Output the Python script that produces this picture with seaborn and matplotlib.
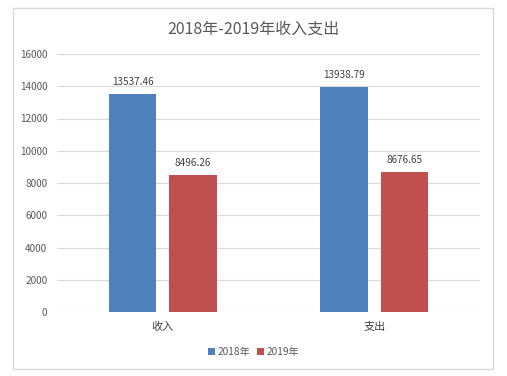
import matplotlib
matplotlib.use("Agg")
import matplotlib.pyplot as plt
import seaborn as sns
import pandas as pd
from matplotlib.patches import Rectangle, Patch

categories = ["收入", "支出"]
series_names = ["2018年", "2019年"]
values_2018 = [13537.46, 13938.79]
values_2019 = [8496.26, 8676.65]
yticks = [0, 2000, 4000, 6000, 8000, 10000, 12000, 14000, 16000]
title = "2018年-2019年收入支出"

sns.set_theme(style="white")
plt.rcParams['font.family'] = ['Noto Sans CJK SC', 'DejaVu Sans']

df = pd.DataFrame({
    "category": categories * 2,
    "series": [series_names[0]] * 2 + [series_names[1]] * 2,
    "value": values_2018 + values_2019,
})

W, H = 507, 376
fig = plt.figure(figsize=(W / 100, H / 100), dpi=100)
ax = fig.add_axes([57 / W, 1 - 312 / H, (480 - 57) / W, (312 - 54) / H])

palette = {series_names[0]: "#4F81BD", series_names[1]: "#C0504D"}
sns.barplot(data=df, x="category", y="value", hue="series", palette=palette,
            order=categories, hue_order=series_names, width=0.572, gap=0.21,
            saturation=1, ax=ax, legend=False, linewidth=0)

ax.set_xlim(-0.5, 1.5)
ax.set_ylim(0, 16000)
ax.set_yticks(yticks)
ax.set_yticklabels([str(v) for v in yticks])
ax.grid(axis="y", color="#D9D9D9", linewidth=0.8)
ax.set_axisbelow(True)
for s in ax.spines.values():
    s.set_visible(False)
ax.set_xlabel("")
ax.set_ylabel("")
ax.tick_params(axis="y", length=0, labelsize=7.2, labelcolor="#595959", pad=7)
ax.tick_params(axis="x", length=0, labelsize=8, labelcolor="#404040", pad=7)

for cont in ax.containers:
    ax.bar_label(cont, labels=[f"{v:.2f}" for v in cont.datavalues],
                 padding=5, fontsize=7.2, color="#404040")

fig.text(0.5, 1 - 29 / H, title, ha="center", va="center", fontsize=11.5, color="#595959")

handles = [Patch(facecolor=palette[s], edgecolor="none") for s in series_names]
fig.legend(handles, series_names, loc="center", bbox_to_anchor=(0.5, 1 - 352 / H),
           ncol=2, frameon=False, fontsize=7.3, handlelength=0.7, handleheight=0.7,
           handletextpad=0.3, columnspacing=0.6, labelcolor="#595959")

fig.patches.append(Rectangle((13 / W, 1 - 369 / H), (493 - 13) / W, (369 - 8) / H,
                             transform=fig.transFigure, fill=False,
                             edgecolor="#D9D9D9", linewidth=1))

fig.savefig("out.png", dpi=100)
